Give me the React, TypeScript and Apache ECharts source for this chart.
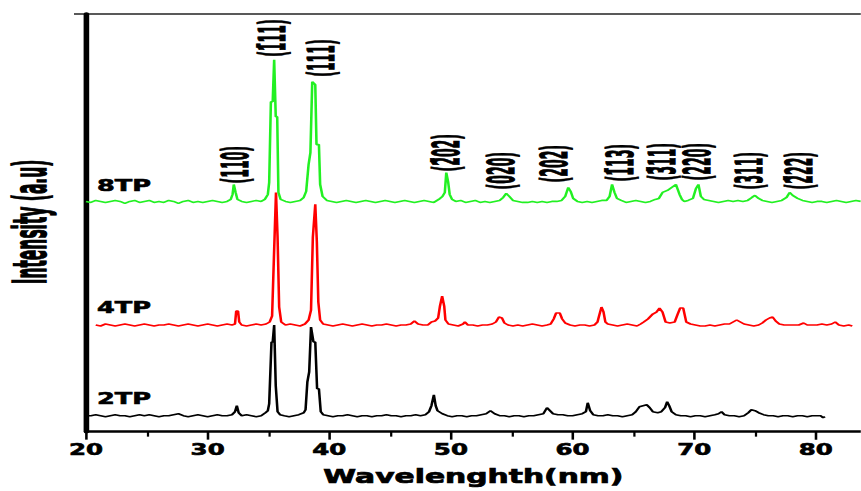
import React, { useEffect, useRef } from "react";
import * as echarts from "echarts";

// ---------- data (x = wavelength axis value, y = offset intensity in plot units) ----------
const xTicks = [20, 30, 40, 50, 60, 70, 80];
const xMinorTicks = [25, 35, 45, 55, 65, 75];

const tp2: [number, number][] = [
  [20.0,16],[20.4,16],[20.8,17],[21.2,16],[21.6,15],[22.0,16],[22.4,17],[22.8,16],[23.2,16],[23.6,15],
  [24.0,16],[24.4,17],[24.8,16],[25.2,17],[25.6,16],[26.0,15],[26.4,16],[26.8,16],[27.2,17],[27.6,18],
  [28.0,16],[28.4,15],[28.8,16],[29.2,17],[29.6,16],[30.0,15],[30.4,16],[30.8,17],[31.2,16],[31.6,16],
  [32.0,17],[32.25,20],[32.4,26],[32.55,19],[32.8,16],[33.2,17],[33.6,16],[34.0,15],[34.4,16],[34.75,19],
  [34.95,21],[35.06,28],[35.25,90],[35.35,90],[35.47,107],[35.6,46],[35.68,46],[35.75,20],[35.95,17],[36.3,16],
  [36.7,15],[37.1,16],[37.5,17],[37.9,19],[38.05,22],[38.2,50],[38.35,60],[38.5,105],[38.7,90],[38.85,90],
  [39.0,43],[39.15,43],[39.3,20],[39.5,17],[39.9,16],[40.3,15],[40.7,16],[41.1,16],[41.5,17],[41.9,16],
  [42.3,15],[42.7,16],[43.1,16],[43.5,15],[43.9,16],[44.3,16],[44.7,17],[45.1,16],[45.5,16],[45.9,15],
  [46.3,16],[46.7,16],[47.1,17],[47.5,16],[47.9,17],[48.2,20],[48.4,26],[48.6,37],[48.75,26],[48.9,21],
  [49.3,18],[49.7,16],[50.1,15],[50.5,16],[50.9,16],[51.3,15],[51.7,16],[52.1,16],[52.5,17],[52.9,18],
  [53.25,21],[53.6,18],[54.0,16],[54.4,16],[54.8,15],[55.2,16],[55.6,16],[56.0,15],[56.4,16],[56.8,16],
  [57.2,17],[57.6,18],[57.9,24],[58.15,21],[58.4,18],[58.8,17],[59.2,17],[59.6,16],[60.0,16],[60.4,17],
  [60.8,18],[61.1,20],[61.25,29],[61.45,21],[61.7,17],[62.1,16],[62.5,16],[62.9,17],[63.3,16],[63.7,16],
  [64.1,15],[64.5,16],[64.9,17],[65.2,20],[65.5,25],[65.8,26],[66.1,27],[66.35,24],[66.6,20],[67.0,19],
  [67.3,20],[67.6,24],[67.78,30],[67.95,26],[68.15,20],[68.5,17],[68.9,16],[69.3,16],[69.7,15],[70.1,16],
  [70.5,16],[70.9,15],[71.3,16],[71.7,17],[72.0,18],[72.25,20],[72.5,17],[72.9,16],[73.3,16],[73.7,15],
  [74.1,16],[74.45,19],[74.7,22],[75.0,21],[75.3,19],[75.7,17],[76.1,16],[76.5,16],[76.9,15],[77.3,16],
  [77.7,16],[78.1,15],[78.5,16],[78.9,16],[79.3,15],[79.7,16],[80.1,16],[80.4,16],[80.6,14],[80.75,15],
];

const tp4: [number, number][] = [
  [20.8,107],[21.2,106],[21.6,108],[22.0,107],[22.4,106],[22.8,107],[23.2,108],[23.6,107],[24.0,106],[24.4,107],
  [24.8,108],[25.2,107],[25.6,106],[26.0,107],[26.4,107],[26.8,108],[27.2,107],[27.6,106],[28.0,107],[28.4,108],
  [28.8,107],[29.2,106],[29.6,107],[30.0,108],[30.4,107],[30.8,106],[31.2,107],[31.6,108],[32.0,107],[32.25,108],
  [32.35,121],[32.5,121],[32.6,110],[32.8,107],[33.2,106],[33.6,107],[34.0,108],[34.4,107],[34.8,108],[35.1,110],
  [35.3,116],[35.45,175],[35.62,240],[35.75,195],[35.88,125],[36.05,110],[36.4,107],[36.8,108],[37.2,107],[37.6,106],
  [38.0,108],[38.3,112],[38.5,122],[38.65,195],[38.85,228],[38.98,190],[39.1,130],[39.25,112],[39.5,108],[39.9,107],
  [40.3,106],[40.7,107],[41.1,108],[41.5,107],[41.9,106],[42.3,107],[42.7,108],[43.1,107],[43.5,106],[43.9,107],
  [44.3,107],[44.7,108],[45.1,107],[45.5,106],[45.9,107],[46.3,107],[46.7,108],[47.0,111],[47.3,108],[47.7,107],
  [48.1,107],[48.4,110],[48.7,111],[48.95,114],[49.1,126],[49.28,136],[49.45,126],[49.55,112],[49.8,108],[50.2,107],
  [50.6,106],[51.0,108],[51.15,110],[51.4,107],[51.8,107],[52.2,106],[52.6,107],[53.0,107],[53.4,108],[53.7,110],
  [53.95,115],[54.2,114],[54.4,109],[54.7,107],[55.1,106],[55.5,107],[55.9,106],[56.3,107],[56.7,108],[57.1,107],
  [57.5,106],[57.9,107],[58.2,108],[58.45,113],[58.65,119],[58.95,119],[59.15,113],[59.4,109],[59.8,107],[60.2,106],
  [60.6,107],[61.0,107],[61.4,106],[61.8,107],[62.05,110],[62.2,117],[62.38,125],[62.55,120],[62.7,110],[62.9,108],
  [63.3,107],[63.7,106],[64.1,107],[64.5,108],[64.9,107],[65.3,106],[65.6,108],[65.85,110],[66.2,113],[66.6,118],
  [66.9,120],[67.15,124],[67.4,120],[67.65,110],[68.0,109],[68.4,110],[68.65,118],[68.85,124],[69.1,124],[69.35,110],
  [69.7,108],[70.1,107],[70.5,106],[70.9,106],[71.3,107],[71.7,106],[72.1,107],[72.5,108],[72.9,108],[73.2,110],
  [73.5,112],[73.8,110],[74.1,108],[74.5,107],[74.9,106],[75.3,107],[75.6,109],[75.9,112],[76.2,114],[76.45,115],
  [76.7,111],[77.0,108],[77.4,107],[77.8,107],[78.2,107],[78.6,107],[79.0,109],[79.3,107],[79.7,107],[80.1,107],
  [80.5,108],[80.9,107],[81.3,108],[81.6,110],[81.9,107],[82.3,106],[82.7,107],[83.0,106],
];

const tp8: [number, number][] = [
  [20.0,231],[20.4,230],[20.8,232],[21.2,231],[21.6,230],[22.0,231],[22.4,232],[22.8,231],[23.2,229],[23.6,231],
  [24.0,232],[24.4,230],[24.8,231],[25.2,232],[25.6,230],[26.0,231],[26.4,230],[26.8,232],[27.2,231],[27.6,229],
  [28.0,231],[28.4,232],[28.8,230],[29.2,231],[29.6,230],[30.0,231],[30.4,232],[30.8,231],[31.2,230],[31.6,231],
  [31.9,233],[32.05,238],[32.15,248],[32.3,240],[32.45,233],[32.8,231],[33.2,230],[33.6,231],[34.0,232],[34.4,231],
  [34.7,233],[34.95,238],[35.06,250],[35.2,331],[35.35,331],[35.47,373],[35.6,316],[35.72,316],[35.82,240],[36.0,233],
  [36.4,231],[36.8,230],[37.2,231],[37.6,232],[37.9,235],[38.1,241],[38.3,268],[38.45,280],[38.6,351],[38.85,348],
  [38.95,288],[39.15,288],[39.25,248],[39.45,236],[39.8,232],[40.2,231],[40.6,230],[41.0,231],[41.4,232],[41.8,231],
  [42.2,230],[42.6,231],[43.0,232],[43.4,231],[43.8,230],[44.2,231],[44.6,232],[45.0,231],[45.4,230],[45.8,231],
  [46.2,232],[46.6,231],[47.0,230],[47.4,231],[47.8,232],[48.2,231],[48.6,230],[49.0,233],[49.3,236],[49.5,240],
  [49.62,260],[49.78,250],[49.9,238],[50.1,233],[50.4,231],[50.8,232],[51.2,230],[51.6,231],[52.0,232],[52.4,230],
  [52.8,231],[53.2,230],[53.6,231],[54.0,232],[54.3,235],[54.55,239],[54.8,236],[55.1,232],[55.5,231],[55.9,230],
  [56.3,230],[56.7,231],[57.1,230],[57.5,231],[57.9,230],[58.3,231],[58.7,231],[59.1,232],[59.4,236],[59.65,245],
  [59.85,241],[60.05,234],[60.4,231],[60.8,230],[61.2,231],[61.6,230],[62.0,231],[62.4,232],[62.8,232],[63.05,236],
  [63.25,248],[63.45,240],[63.65,234],[64.0,232],[64.4,230],[64.8,231],[65.2,232],[65.6,231],[66.0,230],[66.4,231],
  [66.8,233],[67.1,234],[67.4,240],[67.8,242],[68.15,245],[68.5,248],[68.8,238],[69.0,233],[69.2,231],[69.5,232],
  [69.9,234],[70.15,244],[70.35,248],[70.55,236],[70.8,233],[71.2,232],[71.6,231],[72.0,230],[72.4,231],[72.8,232],
  [73.2,231],[73.6,232],[74.0,231],[74.4,232],[74.75,235],[75.0,237],[75.3,234],[75.6,232],[76.0,231],[76.4,230],
  [76.8,231],[77.2,232],[77.6,235],[77.85,240],[78.1,237],[78.5,234],[78.9,232],[79.3,231],[79.7,230],[80.1,231],
  [80.5,231],[80.9,230],[81.3,231],[81.7,232],[82.1,231],[82.5,230],[82.9,231],[83.3,232],[83.7,231],
];

const sampleNames = ["2TP", "4TP", "8TP"];
const sampleNameX = 20.9;
const sampleNameY = [33, 125, 247];

const millerLabels = ["(110)", "(1\u030411)", "(111)", "(2\u030402)", "(020)", "(202)", "(1\u030413)", "(3\u030411)", "(220)", "(311)", "(2\u030422)"];
const millerX = [32.26, 35.31, 39.34, 49.63, 54.16, 58.52, 63.95, 67.41, 70.29, 74.57, 78.68];
const millerY = [249, 376, 356, 261, 243, 250, 251, 252, 252, 243, 243];

const xTitle = "Wavelenghth(nm)";
const yTitle = "Intensity (a.u)";

// ---------- layout ----------
const W = 861;
const H = 491;
const S = 1.6; // horizontal stretch of the reference figure
const FONT = "'DejaVu Sans', 'Liberation Sans', sans-serif";

export default function App() {
  const ref = useRef<HTMLDivElement>(null);

  useEffect(() => {
    if (!ref.current) return;
    const chart = echarts.init(ref.current, null, { renderer: "svg" });
    const lineSeries = (name: string, data: [number, number][], color: string) => ({
      name,
      type: "line",
      data,
      xAxisIndex: 0,
      yAxisIndex: 0,
      symbol: "none",
      showSymbol: false,
      silent: true,
      lineStyle: { color, width: 1.6 },
      itemStyle: { color },
    });
    chart.setOption({
      animation: false,
      backgroundColor: "#ffffff",
      grid: { left: 86 / S, right: 0, top: 14, bottom: H - 433, containLabel: false },
      xAxis: [
        {
          type: "value",
          min: 20,
          max: 83.7,
          interval: 10,
          position: "bottom",
          axisLine: { show: true, onZero: false, lineStyle: { color: "#000", width: 2.5 } },
          axisTick: { show: true, inside: false, length: 8, customValues: xTicks, lineStyle: { color: "#000", width: 1.6 } },
          axisLabel: {
            show: true,
            customValues: xTicks,
            margin: 11,
            color: "#000",
            fontFamily: FONT,
            fontWeight: "bold",
            fontSize: 15.3,
            textBorderColor: "#000",
            textBorderWidth: 0.6,
            formatter: (v: number) => (xTicks.indexOf(v) >= 0 ? String(v) : ""),
          },
          splitLine: { show: false },
          name: xTitle,
          nameLocation: "middle",
          nameGap: 35,
          nameTextStyle: {
            color: "#000",
            fontFamily: FONT,
            fontWeight: "bold",
            fontSize: 18.6,
            textBorderColor: "#000",
            textBorderWidth: 0.7,
          },
        },
        {
          type: "value",
          min: 20,
          max: 83.7,
          interval: 5,
          position: "bottom",
          axisLine: { show: false, onZero: false },
          axisTick: { show: true, inside: false, length: 5, customValues: xMinorTicks, lineStyle: { color: "#000", width: 1.4 } },
          axisLabel: { show: false },
          splitLine: { show: false },
        },
      ],
      yAxis: {
        type: "value",
        min: 0,
        max: 419,
        axisLine: { show: true, onZero: false, lineStyle: { color: "#000", width: 3.5 } },
        axisTick: { show: false },
        axisLabel: { show: false },
        splitLine: { show: false },
      },
      series: [
        lineSeries(sampleNames[0], tp2, "#000000"),
        lineSeries(sampleNames[1], tp4, "#ff0000"),
        lineSeries(sampleNames[2], tp8, "#22f022"),
      ],
    });

    const toPx = (x: number, y: number) => chart.convertToPixel({ gridIndex: 0 }, [x, y]) as number[];
    const graphics: any[] = [];

    graphics.push({
      type: "line",
      silent: true,
      shape: { x1: 74 / S, y1: 14, x2: W / S, y2: 14 },
      style: { stroke: "#222", lineWidth: 1.3 },
    });

    graphics.push({
      type: "text",
      silent: true,
      x: 30 / S,
      y: 222,
      rotation: Math.PI / 2,
      scaleY: 1.85,
      style: {
        text: yTitle,
        fill: "#000",
        stroke: "#000",
        lineWidth: 0.5,
        fontFamily: FONT,
        fontWeight: "bold",
        fontSize: 15.5,
        align: "center",
        verticalAlign: "middle",
        textAlign: "center",
        textVerticalAlign: "middle",
      },
    });

    sampleNames.forEach((n, i) => {
      const p = toPx(sampleNameX, sampleNameY[i]);
      graphics.push({
        type: "text",
        silent: true,
        x: p[0],
        y: p[1],
        style: {
          text: n,
          fill: "#000",
          stroke: "#000",
          lineWidth: 0.6,
          fontFamily: FONT,
          fontWeight: "bold",
          fontSize: 16,
          align: "left",
          verticalAlign: "middle",
          textAlign: "left",
          textVerticalAlign: "middle",
        },
      });
    });

    millerLabels.forEach((t, i) => {
      const p = toPx(millerX[i], millerY[i]);
      graphics.push({
        type: "text",
        silent: true,
        x: p[0],
        y: p[1],
        rotation: Math.PI / 2,
        scaleY: 1.85,
        style: {
          text: t,
          fill: "#000",
          stroke: "#000",
          lineWidth: 0.4,
          fontFamily: FONT,
          fontWeight: "bold",
          fontSize: 12.5,
          align: "left",
          verticalAlign: "middle",
          textAlign: "left",
          textVerticalAlign: "middle",
        },
      });
    });

    chart.setOption({ graphic: graphics });

    return () => chart.dispose();
  }, []);

  return (
    <div
      style={{
        position: "fixed",
        left: 0,
        top: 0,
        width: W,
        height: H,
        overflow: "hidden",
        background: "#fff",
      }}
    >
      <div
        ref={ref}
        style={{
          width: W / S,
          height: H,
          transform: `scaleX(${S})`,
          transformOrigin: "0 0",
        }}
      />
    </div>
  );
}
